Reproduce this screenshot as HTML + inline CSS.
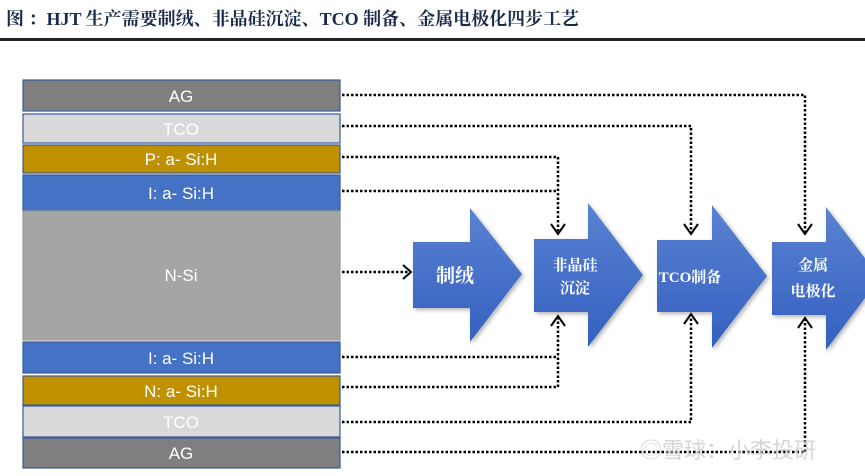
<!DOCTYPE html>
<html><head><meta charset="utf-8"><style>
html,body{margin:0;padding:0;background:#fff;width:865px;height:476px;overflow:hidden}
</style></head><body>
<svg width="865" height="476" xmlns="http://www.w3.org/2000/svg" font-family="Liberation Sans, Noto Sans CJK SC, sans-serif">
<defs>
<linearGradient id="g" x1="0" y1="0" x2="0" y2="1"><stop offset="0" stop-color="#5a82d2"/><stop offset="1" stop-color="#3460bf"/></linearGradient>
<filter id="s" x="-10%" y="-10%" width="130%" height="130%"><feDropShadow dx="2" dy="2" stdDeviation="2" flood-opacity="0.3"/></filter>
</defs>
<text x="6" y="25" font-family="Liberation Serif, Noto Serif CJK SC, serif" font-weight="bold" font-size="18" fill="#1a2a4a">图  ：HJT 生产需要制绒、非晶硅沉淀、TCO 制备、金属电极化四步工艺</text>
<rect x="0" y="38" width="865" height="3" fill="#222"/>
<g stroke="#3a5a9a" stroke-width="1.2">
<rect x="23" y="80" width="317" height="31" fill="#7f7f7f"/>
<rect x="23" y="114" width="317" height="29" fill="#d9d9d9"/>
<rect x="23" y="145" width="317" height="28" fill="#bf9000"/>
<rect x="23" y="175" width="317" height="36" fill="#4472c4"/>
<rect x="23" y="211" width="317" height="129" fill="#a5a5a5" stroke="#999"/>
<rect x="23" y="342" width="317" height="31" fill="#4472c4"/>
<rect x="23" y="376" width="317" height="29" fill="#bf9000"/>
<rect x="23" y="406" width="317" height="31" fill="#d9d9d9"/>
<rect x="23" y="438" width="317" height="30" fill="#7f7f7f"/>
</g>
<g fill="#fff" font-size="17" text-anchor="middle">
<text x="181" y="102">AG</text>
<text x="181" y="135">TCO</text>
<text x="181" y="165">P: a- Si:H</text>
<text x="181" y="199">I: a- Si:H</text>
<text x="181" y="281">N-Si</text>
<text x="181" y="364">I: a- Si:H</text>
<text x="181" y="397">N: a- Si:H</text>
<text x="181" y="428">TCO</text>
<text x="181" y="459">AG</text>
</g>
<g fill="url(#g)" filter="url(#s)">
<polygon points="413,242 470,242 470,208 522,274 470,342 470,308 413,308"/>
<polygon points="534,239 588,239 588,203 643,275 588,347 588,312 534,312"/>
<polygon points="657,240 712,240 712,205 767,276 712,348 712,312 657,312"/>
<polygon points="772,242 826,242 826,207 880,278 826,350 826,315 772,315"/>
</g>
<g fill="#fff" font-family="Liberation Serif, Noto Serif CJK SC, serif" font-weight="bold" text-anchor="middle">
<text x="455" y="282" font-size="19">制绒</text>
<text x="575" y="270" font-size="15">非晶硅</text>
<text x="575" y="293" font-size="15">沉淀</text>
<text x="690" y="282" font-size="15">TCO制备</text>
<text x="813" y="270" font-size="15">金属</text>
<text x="813" y="296" font-size="15">电极化</text>
</g>
<g fill="none" stroke="#000" stroke-width="2.5" stroke-dasharray="2.5,2">
<polyline points="342,95 805,95 805,232"/>
<polyline points="342,126 691,126 691,232"/>
<polyline points="342,157 558,157 558,232"/>
<polyline points="342,191 558,191"/>
<polyline points="342,272 410,272"/>
<polyline points="342,357 558,357"/>
<polyline points="342,387 558,387 558,318"/>
<polyline points="342,422 691,422 691,316"/>
<polyline points="342,452 805,452 805,320"/>
</g>
<g fill="none" stroke="#000" stroke-width="2">
<polyline points="551,224 558,234 565,224"/>
<polyline points="684,224 691,234 698,224"/>
<polyline points="798,224 805,234 812,224"/>
<polyline points="551,326 558,316 565,326"/>
<polyline points="684,324 691,314 698,324"/>
<polyline points="798,328 805,318 812,328"/>
<polyline points="403,265 411,272 403,279"/>
</g>
<text x="640" y="458" font-size="22" fill="#ccc" opacity="0.8" font-family="Liberation Sans, Noto Sans CJK SC, sans-serif">◎雪球：小李投研</text>
</svg>
</body></html>
